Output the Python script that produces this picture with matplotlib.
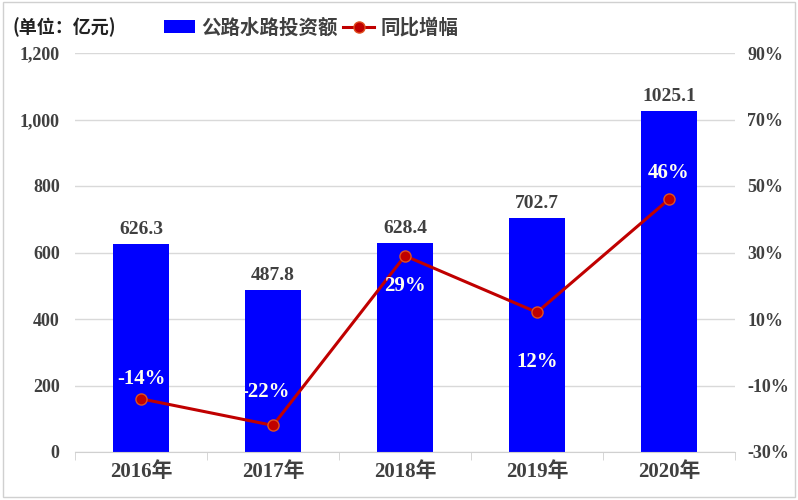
import matplotlib
matplotlib.use("Agg")
import matplotlib.pyplot as plt
from matplotlib.patches import Rectangle
from matplotlib.ticker import FuncFormatter, MultipleLocator

# 数据
years = ["2016年", "2017年", "2018年", "2019年", "2020年"]
invest = [626.3, 487.8, 628.4, 702.7, 1025.1]
growth = [-14, -22, 29, 12, 46]
growth_labels = ["-14%", "-22%", "29%", "12%", "46%"]
right_ticks = [-30, -10, 10, 30, 50, 70, 90]

FONT = ["Liberation Serif", "Noto Sans CJK SC"]
plt.rcParams["font.family"] = FONT
plt.rcParams["font.weight"] = "bold"

fig = plt.figure(figsize=(7.98, 5.0), dpi=100)
fig.patches.append(Rectangle((0.004, 0.006), 0.992, 0.99, transform=fig.transFigure,
                             fill=False, edgecolor="#d0d0d0", linewidth=1))

ax = fig.add_axes([0.094, 0.096, 0.827, 0.798])
x = list(range(len(years)))
ax.bar(x, invest, width=0.42, color="#0000FF", zorder=2, label="公路水路投资额")
ax.set_ylim(0, 1200)
ax.set_xlim(-0.5, 4.5)
ax.yaxis.set_major_locator(MultipleLocator(200))
ax.yaxis.set_major_formatter(FuncFormatter(lambda v, p: f"{int(v):,}"))
ax.grid(axis="y", color="#d9d9d9", linewidth=1, zorder=0)
ax.set_axisbelow(True)
for s in ["top", "right", "left"]:
    ax.spines[s].set_visible(False)
ax.spines["bottom"].set_color("#d0d0d0")
ax.tick_params(axis="y", length=0, labelsize=13, labelcolor="#404040", pad=11)
ax.set_xticks(x)
ax.set_xticklabels(years, fontsize=15, color="#404040", fontweight="bold")
ax.tick_params(axis="x", length=0, pad=7)
ax.set_xticks([i + 0.5 for i in range(-1, 5)], minor=True)
ax.tick_params(axis="x", which="minor", length=6, color="#d0d0d0")

for xi, v in zip(x, invest):
    ax.text(xi, v + 18, f"{v:.1f}", ha="center", va="bottom", fontsize=14,
            color="#404040", fontweight="bold")

ax2 = ax.twinx()
ax2.set_ylim(-30, 90)
ax2.set_yticks(right_ticks)
ax2.yaxis.set_major_formatter(FuncFormatter(lambda v, p: f"{int(v)}%"))
for s in ["top", "right", "left", "bottom"]:
    ax2.spines[s].set_visible(False)
ax2.tick_params(axis="y", length=0, labelsize=13, labelcolor="#404040", pad=9)
ax2.plot(x, growth, color="#C00000", linewidth=2.2, marker="o", markersize=8,
         markerfacecolor="#C00000", markeredgecolor="#E05020", label="同比增幅", zorder=3)

offsets = [(0, 6), (-0.06, 10), (0, -9), (0, -15), (0, 8)]
for xi, g, lab, (dx, dy) in zip(x, growth, growth_labels, offsets):
    ax2.text(xi + dx, g + dy, lab, ha="center", va="center", fontsize=15,
             color="#FFFFF0", fontweight="bold", zorder=4)

fig.text(0.016, 0.945, "(单位：亿元)", fontsize=13, fontweight="bold",
         color="#222222", va="center", family=["Noto Sans CJK SC"])

h1, l1 = ax.get_legend_handles_labels()
h2, l2 = ax2.get_legend_handles_labels()
fig.legend(h1 + h2, l1 + l2, loc="center", bbox_to_anchor=(0.39, 0.945), ncol=2,
           frameon=False, prop={"family": ["Noto Sans CJK SC"], "size": 14, "weight": "bold"},
           handlelength=1.6, handletextpad=0.3, columnspacing=0.3, labelcolor="#404040")

fig.savefig("out.png", dpi=100)
